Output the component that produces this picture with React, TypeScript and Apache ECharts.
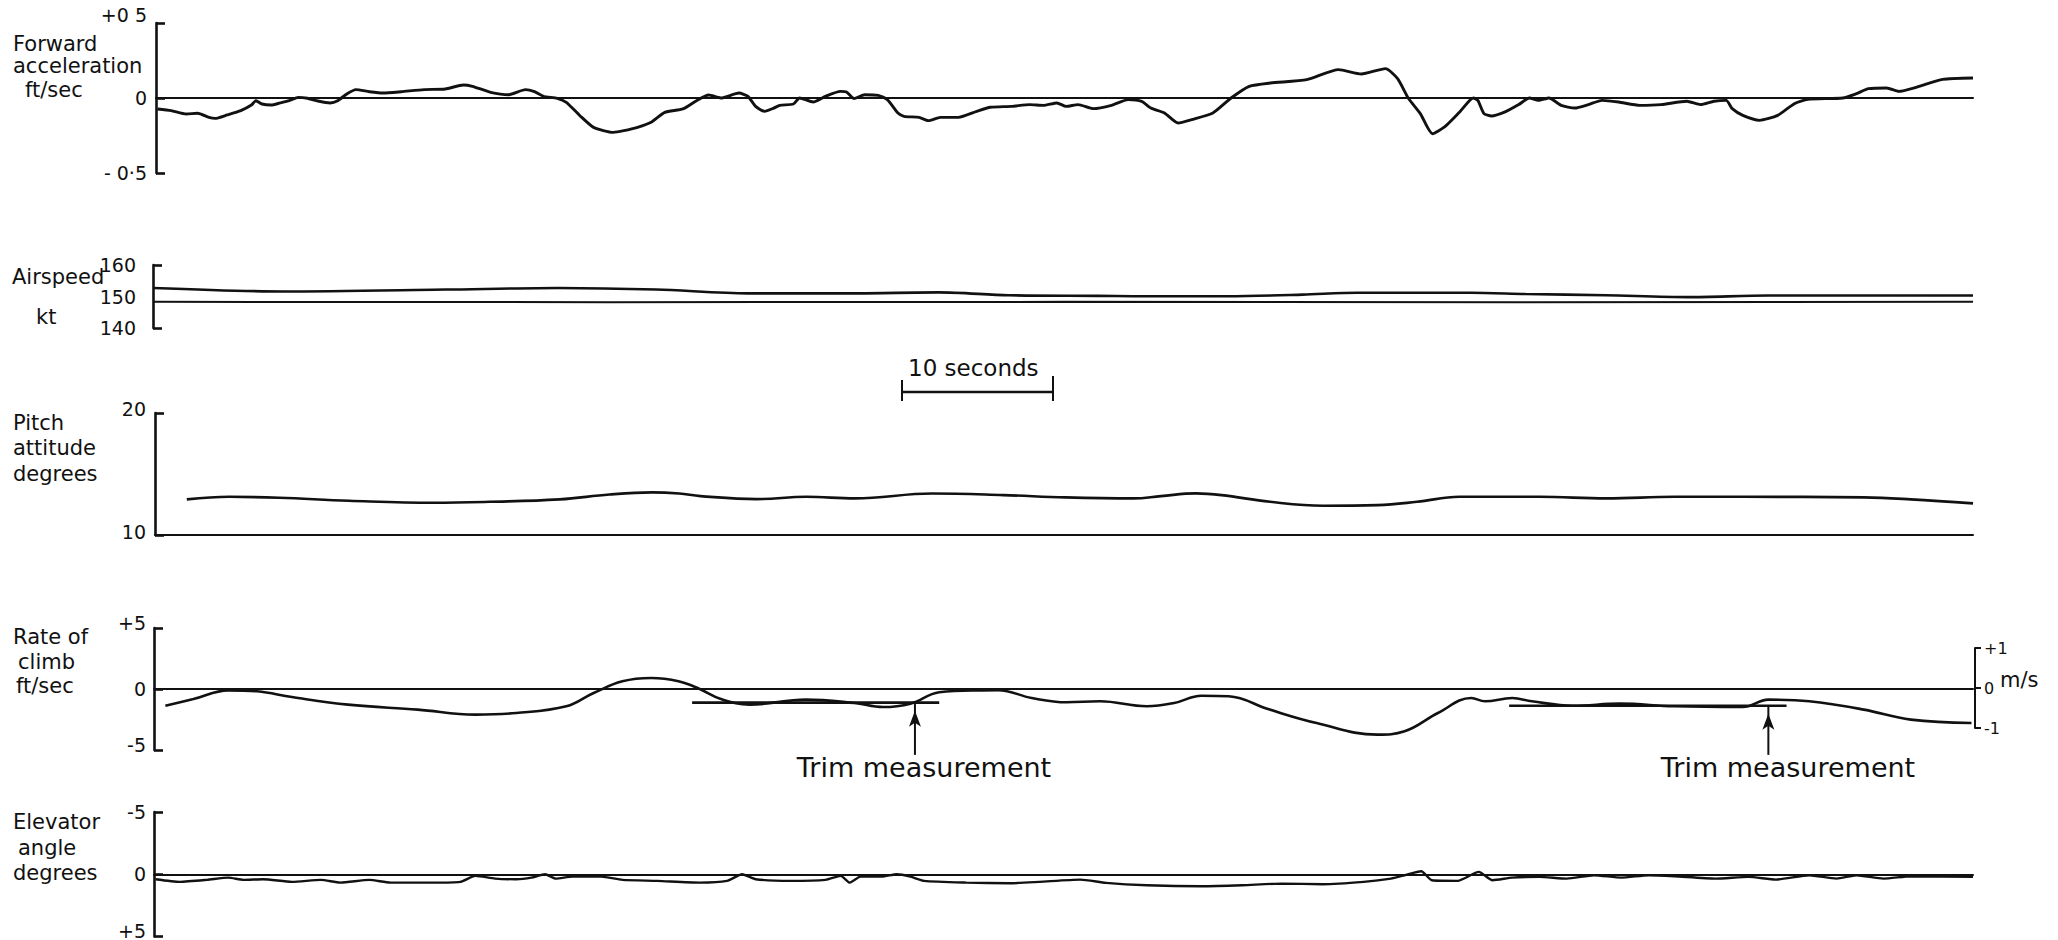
import React, { useEffect, useRef } from "react";
import * as echarts from "echarts";

// ---- Data (time in seconds) ----
const forwardT = [0.1,1.0,2.0,2.75,3.5,3.9,4.7,5.6,6.3,6.6, 7.0,7.6,8.2,8.8,9.4,10.0,10.6,11.5,12.0,12.6, 13.2,14.1,15.0,16.2,17.7,19.1,20.3,20.9,22.1,23.3, 24.4,25.0,25.6,26.5,27.1,28.0,28.9,30.2,30.9,31.8, 32.7,33.6,34.8,35.7,36.5,37.3,38.5,39.1,39.6,40.2, 40.8,41.2,42.1,42.5,43.4,44.2,45.2,45.6,46.1,46.8, 47.7,48.3,49.0,49.4,50.4,51.0,51.8,53.0,54.2,55.1, 56.5,57.7,58.6,59.5,60.1,60.9,61.9,63.1,64.2,65.1, 65.7,66.6,67.5,68.4,69.8,71.0,72.2,73.6,76.0,78.1, 79.6,81.2,82.0,82.7,83.5,84.3,85.1,86.1,87.0,87.3, 87.7,88.2,89.1,90.0,90.7,91.3,92.0,92.8,93.7,94.6, 95.5,96.6,98.0,99.4,101.1,102.0,102.9,103.7,104.1,104.8, 105.9,107.1,108.2,109.1,111.4,112.3,113.1,114.3,115.1,116.3, 118.0,120.0];
const forwardV = [-0.073,-0.084,-0.107,-0.102,-0.129,-0.136,-0.113,-0.084,-0.047,-0.018, -0.04,-0.047,-0.033,-0.018,0.004,-0.002,-0.018,-0.033,-0.018,0.027, 0.056,0.042,0.033,0.042,0.056,0.06,0.087,0.078,0.038,0.022, 0.056,0.042,0.011,-0.002,-0.029,-0.118,-0.196,-0.229,-0.218,-0.196, -0.162,-0.096,-0.073,-0.018,0.02,0.0,0.033,0.01,-0.056,-0.089, -0.067,-0.049,-0.04,0.0,-0.027,0.011,0.044,0.04,-0.004,0.022, 0.018,-0.011,-0.1,-0.122,-0.129,-0.151,-0.129,-0.129,-0.089,-0.062, -0.056,-0.044,-0.049,-0.033,-0.056,-0.044,-0.071,-0.049,-0.011,-0.022, -0.067,-0.1,-0.167,-0.144,-0.1,0.0,0.078,0.1,0.122,0.189, 0.16,0.196,0.129,0,-0.104,-0.238,-0.193,-0.093,0,-0.016, -0.104,-0.12,-0.093,-0.044,0,-0.016,0,-0.049,-0.067,-0.044, -0.016,-0.027,-0.049,-0.044,-0.022,-0.044,-0.022,-0.016,-0.071,-0.116, -0.149,-0.116,-0.038,-0.009,0,0.029,0.062,0.067,0.044,0.073, 0.124,0.133];

const airT = [0, 8.6, 19.3, 26.7, 33.2, 39.2, 46.2, 51.8, 56.4, 62.3, 64.6, 70.9, 75.8, 79.4, 86.9, 90.5, 95.8, 101.2, 106.5, 113.2, 120];
const airV = [152.7, 151.6, 152.2, 152.7, 152.2, 151.0, 151.0, 151.3, 150.4, 150.2, 150.1, 150.1, 150.6, 151.2, 151.2, 150.8, 150.4, 149.8, 150.3, 150.3, 150.3];
const airRefT = [0, 30, 60, 90, 120];
const airRefV = [148.3, 148.2, 148.3, 148.2, 148.3];

const pitchT = [2.1,4.9,8.2,12.8,18.4,22.1,26.7,30.0,32.8,34.6, 36.0,39.7,43.0,46.2,51.3,56.0,60.1,64.6,66.4,68.7, 70.4,73.6,77.1,80.7,83.3,86.1,91.4,95.8,100.3,104.8, 112.8,115.9,120];
const pitchV = [12.92,13.13,13.05,12.81,12.64,12.72,12.92,13.32,13.49,13.4, 13.19,12.94,13.13,13.0,13.4,13.27,13.08,13.0,13.19,13.41, 13.27,12.72,12.4,12.45,12.72,13.13,13.13,13.0,13.13,13.13, 13.08,12.92,12.59];

const rateT = [0.75,2.6,4.9,6.8,9.1,12.8,17.4,21.2,23.9,27.2, 29.0,30.9,32.8,34.6,36.0,37.4,39.3,43.0,46.2,48.1, 49.9,51.8,54.6,55.7,57.9,60.2,62.4,65.5,67.3,69.1, 70.9,73.6,76.7,80.7,82.5,84.7,86.9,87.8,89.6,90.9, 93.6,96.7,100.3,104.8,106.5,109.2,112.8,115.9,119.9];
const rateV = [-1.37,-0.82,-0.11,-0.19,-0.66,-1.28,-1.69,-2.10,-1.97,-1.42, -0.33,0.63,0.9,0.63,0,-0.82,-1.28,-0.87,-1.15,-1.48, -1.2,-0.27,-0.11,-0.1,-0.74,-1.09,-1.01,-1.42,-1.15,-0.55, -0.6,-1.69,-2.79,-3.74,-3.47,-1.97,-0.74,-1.01,-0.74,-1.01, -1.37,-1.2,-1.42,-1.48,-0.87,-1.01,-1.69,-2.51,-2.79];

const trimStart = [35.5, 89.4];
const trimEnd = [51.8, 107.7];
const trimLevel = [-1.12, -1.37];
const arrowT = [50.2, 106.5];
const arrowFoot = -5.4;
const trimLabel = "Trim measurement";

const elevT = [0.1,1.7,3.5,4.9,5.9,7.2,9.1,11.0,12.3,14.2, 15.6,18.4,20.2,21.2,22.5,23.9,24.9,25.8,26.5,27.6, 29.5,30.9,33.2,36.0,37.8,38.8,39.7,42.0,44.3,45.3, 45.9,46.6,48.0,49.0,49.9,50.8,53.6,56.4,58.4,61.1, 62.8,65.5,69.1,71.8,74.4,77.1,79.8,81.6,82.5,83.6, 84.3,86.0,87.4,88.3,89.6,91.4,93.2,95.0,96.8,98.6, 100.3,103.0,105.2,107.0,109.2,111.0,112.3,114.1,115.9,120.0];
const elevV = [0.4,0.61,0.45,0.27,0.45,0.4,0.61,0.45,0.67,0.45, 0.67,0.67,0.61,0.13,0.35,0.4,0.27,0,0.35,0.19, 0.19,0.45,0.53,0.67,0.53,0,0.4,0.53,0.45,0.13, 0.67,0.19,0.19,0,0.19,0.53,0.67,0.72,0.61,0.43, 0.69,0.88,0.96,0.88,0.75,0.8,0.61,0.35,0.08,-0.24, 0.48,0.53,-0.19,0.48,0.27,0.21,0.35,0.08,0.27,0.08, 0.16,0.35,0.21,0.43,0.08,0.35,0.08,0.35,0.16,0.21];

const forwardTicks = ["- 0·5", "0", "+0 5"];
const airTicks = [140, 150, 160];
const msTicks = ["-1", "0", "+1"];

const FONT = "DejaVu Sans";
const BLACK = "#111";
const WEIGHT = "normal";
const LBL = 19;

const pair = (t: number[], v: number[]) => t.map((x, i) => [x, v[i]]);

function yAxisBase(gridIndex: number, min: number, max: number, interval: number, extra: any = {}) {
  return {
    type: "value",
    gridIndex,
    min,
    max,
    interval,
    splitLine: { show: false },
    axisLine: { show: true, lineStyle: { color: BLACK, width: 2.6 } },
    axisTick: { show: true, inside: true, length: 9, lineStyle: { color: BLACK, width: 2.6 } },
    axisLabel: { color: BLACK, fontFamily: FONT, fontSize: LBL, fontWeight: WEIGHT, margin: 9 },
    ...extra,
  };
}

function xAxisBase(gridIndex: number, showLine: boolean) {
  return {
    type: "value",
    gridIndex,
    min: 0,
    max: 120,
    axisLine: { show: showLine, onZero: true, lineStyle: { color: BLACK, width: 2 } },
    axisTick: { show: false },
    axisLabel: { show: false },
    splitLine: { show: false },
  };
}

const lineSeries = (xi: number, data: number[][], width = 2.6, smooth: number | boolean = 0.25) => ({
  type: "line",
  xAxisIndex: xi,
  yAxisIndex: xi,
  data,
  showSymbol: false,
  symbol: "none",
  smooth,
  lineStyle: { color: BLACK, width },
  silent: true,
});

const shifted = (base: string, up: number) => `{u${up}|${base}}`;
const richFor = (ups: number[], size = LBL) => {
  const r: any = {};
  ups.forEach((u) => {
    r["u" + u] = { fontFamily: FONT, fontSize: size, fontWeight: WEIGHT, color: BLACK, padding: [0, 0, u * 2, 0] };
  });
  return r;
};

const title = (text: string, x: number, y: number, size = 21) => ({
  type: "text",
  x,
  y,
  silent: true,
  style: { text, fill: BLACK, fontFamily: FONT, fontSize: size, fontWeight: WEIGHT, verticalAlign: "middle", align: "left" },
});

export default function App() {
  const ref = useRef<HTMLDivElement>(null);
  useEffect(() => {
    if (!ref.current) return;
    const chart = echarts.init(ref.current, null, { renderer: "svg" });

    const grids = [
      { left: 156, right: 85, top: 23, height: 150 },
      { left: 153, right: 85, top: 265, height: 63 },
      { left: 155, right: 85, top: 413, height: 122 },
      { left: 154, right: 85, top: 628, height: 122 },
      { left: 1975, width: 10, top: 648, height: 80 },
      { left: 154, right: 85, top: 812, height: 125 },
    ];

    const xAxes = [
      xAxisBase(0, true),
      xAxisBase(1, false),
      xAxisBase(2, true),
      xAxisBase(3, true),
      { ...xAxisBase(4, false), show: false },
      xAxisBase(5, true),
    ];

    const yAxes = [
      yAxisBase(0, -0.5, 0.5, 0.5, {
        axisLabel: {
          color: BLACK, fontFamily: FONT, fontSize: LBL, fontWeight: WEIGHT, margin: 9,
          formatter: (v: number) => {
            const i = Math.round(v / 0.5) + 1;
            if (i === 2) return shifted(forwardTicks[i], 8);
            return shifted(forwardTicks[i], 0);
          },
          rich: richFor([0, 8]),
        },
      }),
      yAxisBase(1, airTicks[0], airTicks[2], 10, {
        axisTick: { show: true, inside: true, length: 9, customValues: [airTicks[0], airTicks[2]], lineStyle: { color: BLACK, width: 2.6 } },
        axisLabel: { color: BLACK, fontFamily: FONT, fontSize: LBL, fontWeight: WEIGHT, margin: 17, customValues: airTicks },
      }),
      yAxisBase(2, 10, 20, 10, {
        axisLabel: {
          color: BLACK, fontFamily: FONT, fontSize: LBL, fontWeight: WEIGHT, margin: 9,
          formatter: (v: number) => shifted(String(v), v === 20 ? 4 : 3),
          rich: richFor([3, 4]),
        },
      }),
      yAxisBase(3, -5, 5, 5, {
        axisLabel: {
          color: BLACK, fontFamily: FONT, fontSize: LBL, fontWeight: WEIGHT, margin: 8,
          formatter: (v: number) => shifted(v > 0 ? "+5" : v < 0 ? "-5" : "0", v === 0 ? 0 : 5),
          rich: richFor([0, 5]),
        },
      }),
      {
        type: "value",
        gridIndex: 4,
        min: -1,
        max: 1,
        interval: 1,
        splitLine: { show: false },
        axisLine: { show: true, lineStyle: { color: BLACK, width: 2 } },
        axisTick: { show: true, inside: true, length: 6, lineStyle: { color: BLACK, width: 2 } },
        axisLabel: {
          inside: true,
          margin: 9,
          color: BLACK,
          fontFamily: FONT,
          fontWeight: WEIGHT,
          fontSize: 16,
          formatter: (v: number) => msTicks[Math.round(v) + 1],
        },
      },
      yAxisBase(5, -5, 5, 5, {
        inverse: true,
        axisLabel: {
          color: BLACK, fontFamily: FONT, fontSize: LBL, fontWeight: WEIGHT, margin: 8,
          formatter: (v: number) => shifted(v > 0 ? "+5" : v < 0 ? "-5" : "0", v > 0 ? 6 : 0),
          rich: richFor([0, 6]),
        },
      }),
    ];

    const trimSeries = trimStart.map((s, i) => ({
      type: "line",
      xAxisIndex: 3,
      yAxisIndex: 3,
      data: [[s, trimLevel[i]], [trimEnd[i], trimLevel[i]]],
      showSymbol: false,
      symbol: "none",
      lineStyle: { color: BLACK, width: 2.6 },
      silent: true,
    }));

    const arrowSeries = arrowT.map((t, i) => ({
      type: "line",
      xAxisIndex: 3,
      yAxisIndex: 3,
      clip: false,
      data: [
        { value: [t, arrowFoot], symbol: "none" },
        { value: [t, trimLevel[i]], symbol: "arrow", symbolSize: [9, 16], symbolOffset: [0, "50%"] },
      ],
      showSymbol: true,
      itemStyle: { color: BLACK },
      lineStyle: { color: BLACK, width: 2 },
      silent: true,
    }));

    const series: any[] = [
      lineSeries(0, pair(forwardT, forwardV), 2.9, 0.2),
      lineSeries(1, pair(airT, airV), 2.6, 0.3),
      lineSeries(1, pair(airRefT, airRefV), 2, false),
      lineSeries(2, pair(pitchT, pitchV), 2.6, 0.4),
      lineSeries(3, pair(rateT, rateV), 2.6, 0.4),
      ...trimSeries,
      ...arrowSeries,
      lineSeries(5, pair(elevT, elevV), 2.4, 0.2),
    ];

    const graphic: any[] = [
      title("Forward", 13, 44),
      title("acceleration", 13, 66),
      title("ft/sec", 25, 90),
      title("Airspeed", 12, 277),
      title("kt", 36, 317),
      title("Pitch", 13, 423),
      title("attitude", 13, 448),
      title("degrees", 13, 474),
      title("Rate of", 13, 637),
      title("climb", 18, 662),
      title("ft/sec", 16, 686),
      title("Elevator", 13, 822),
      title("angle", 18, 848),
      title("degrees", 13, 873),
      title("m/s", 2000, 680, 21),
      title("10 seconds", 908, 368, 23),
      { type: "line", silent: true, shape: { x1: 902, y1: 392, x2: 1053, y2: 392 }, style: { stroke: BLACK, lineWidth: 2.5 } },
      { type: "line", silent: true, shape: { x1: 902, y1: 380, x2: 902, y2: 401 }, style: { stroke: BLACK, lineWidth: 2 } },
      { type: "line", silent: true, shape: { x1: 1053, y1: 376, x2: 1053, y2: 401 }, style: { stroke: BLACK, lineWidth: 2 } },
      {
        type: "text", silent: true, x: 924, y: 767,
        style: { text: trimLabel, fill: BLACK, fontFamily: FONT, fontWeight: WEIGHT, fontSize: 27, align: "center", verticalAlign: "middle" },
      },
      {
        type: "text", silent: true, x: 1788, y: 767,
        style: { text: trimLabel, fill: BLACK, fontFamily: FONT, fontWeight: WEIGHT, fontSize: 27, align: "center", verticalAlign: "middle" },
      },
    ];

    chart.setOption({
      animation: false,
      backgroundColor: "#ffffff",
      grid: grids,
      xAxis: xAxes,
      yAxis: yAxes,
      series,
      graphic,
    });

    return () => chart.dispose();
  }, []);

  return (
    <div
      ref={ref}
      style={{ position: "fixed", left: 0, top: 0, width: 2058, height: 940, background: "#fff" }}
    />
  );
}
